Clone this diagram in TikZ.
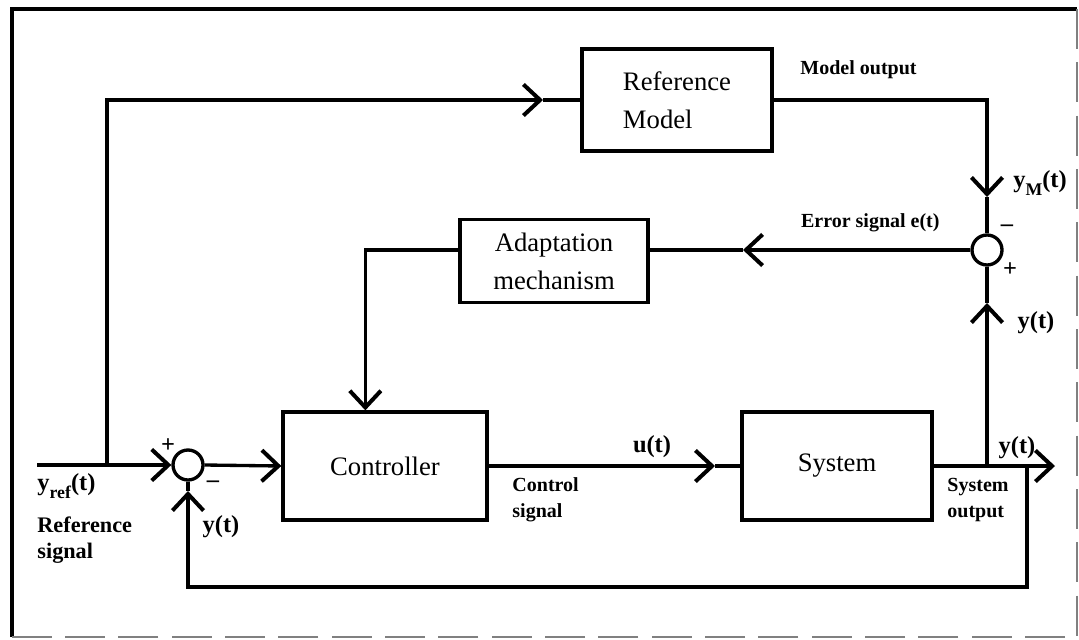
\documentclass[tikz,border=0pt]{standalone}
\usepackage{fontspec}
\setmainfont{Liberation Serif}
\usepackage{tikz}
\usetikzlibrary{arrows.meta}
\newcommand{\sigsub}[1]{\raisebox{-0.7ex}{\fontsize{8}{8}\selectfont #1}}
\tikzstyle{wire}=[line width=1.5pt]
\tikzstyle{sig}=[wire, -{Straight Barb[length=7.5pt, width=14pt, line width=1.8pt]}]
\tikzstyle{block}=[draw, line width=1.5pt, inner sep=0, align=center,
                   font=\fontsize{12}{17}\selectfont]
\tikzstyle{sumnode}=[draw, circle, line width=1.5pt, inner sep=0, minimum size=13.5pt]
\tikzstyle{lbl}=[inner sep=0, align=left, font=\bfseries\fontsize{9}{11.7}\selectfont]
\tikzstyle{siglbl}=[inner sep=0, font=\bfseries\fontsize{11}{13}\selectfont]
\tikzstyle{signlbl}=[inner sep=0, font=\bfseries\fontsize{11}{13}\selectfont]

\begin{document}
\begin{tikzpicture}[x=0.45pt, y=-0.45pt]
        \useasboundingbox (0,0) rectangle (1079,640);
        % frame
        \draw[line width=1.8pt] (12,637) -- (12,9) -- (1077,9);
        \draw[line width=0.6pt, gray, dash pattern=on 18pt off 6pt] (1077,9) -- (1077,637) -- (12,637);

        \node[block, minimum width=91.8pt, minimum height=48.6pt] (ctrl) at (385,466) {Controller};
        \node[block, minimum width=85.5pt, minimum height=48.6pt] (sys) at (837,466) {System};
        \node[block, minimum width=85.5pt, minimum height=46pt, align=left] (refm) at (677,100) {Reference\\Model};
        \node[block, minimum width=84.6pt, minimum height=37.4pt] (adapt) at (554,261) {Adaptation\\mechanism};
        \node[sumnode] (s1) at (188,465) {};
        \node[sumnode] (s2) at (987,250) {};

        \coordinate (in) at (37,465);
        \coordinate (br1) at (107,465);
        \coordinate (br2) at (987,466);
        \coordinate (br3) at (1027,466);
        \coordinate (out) at (1055,466);
        \coordinate (tipref) at (543,100);
        \coordinate (tipu) at (715,466);
        \coordinate (tipym) at (987,197);
        \coordinate (tipy) at (987,303);
        \coordinate (tipe) at (743,250);
        \coordinate (tipfb) at (188,491);
        \coordinate (cin) at ([xshift=37.8pt]ctrl.north west);

        \draw[sig] (in) -- (s1.west);
        \draw[sig] (br1) |- (tipref);
        \draw[wire] (tipref) -- (refm.west);
        \draw[sig] (s1.east) -- (ctrl.west);
        \draw[sig] (ctrl.east) -- (tipu);
        \draw[wire] (tipu) -- (sys.west);
        \draw[sig] (sys.east) -- (out);
        \draw[sig] (refm.east) -| (tipym);
        \draw[wire] (tipym) -- (s2.north);
        \draw[sig] (br2) -- (tipy);
        \draw[wire] (tipy) -- (s2.south);
        \draw[sig] (s2.west) -- (tipe);
        \draw[wire] (tipe) -- (tipe -| adapt.east);
        \draw[sig] (tipe -| adapt.west) -| (cin);
        \draw[sig] (br3) -- (1027,587) -| (tipfb);
        \draw[wire] (tipfb) -- (s1.south);

        % signs
        \node[signlbl] (p1) at (168,446) {+};
        \node[signlbl] (m1) at (213,484) {--};
        \node[signlbl] (m2) at (1007,228) {--};
        \node[signlbl] (p2) at (1010,270) {+};

        % signal labels
        \node[siglbl, anchor=west] (yref) at (37,486) {y\sigsub{ref}(t)};
        \node[lbl, anchor=west, font=\bfseries\fontsize{10}{11.7}\selectfont] (refsig) at (37,540) {Reference\\signal};
        \node[siglbl] (yfb) at (221,527) {y(t)};
        \node[siglbl] (ut) at (652,447) {u(t)};
        \node[lbl, anchor=west] (ctrlsig) at (512,500) {Control\\signal};
        \node[siglbl] (yout) at (1017,448) {y(t)};
        \node[lbl, anchor=west] (sysout) at (947,500) {System\\output};
        \node[siglbl] (ym) at (1040,183) {y\sigsub{M}(t)};
        \node[siglbl] (ys2) at (1036,323) {y(t)};
        \node[lbl, anchor=east] (err) at (940,223) {Error signal e(t)};
        \node[lbl, anchor=west] (modout) at (800,70) {Model output};
    \end{tikzpicture}
\end{document}
